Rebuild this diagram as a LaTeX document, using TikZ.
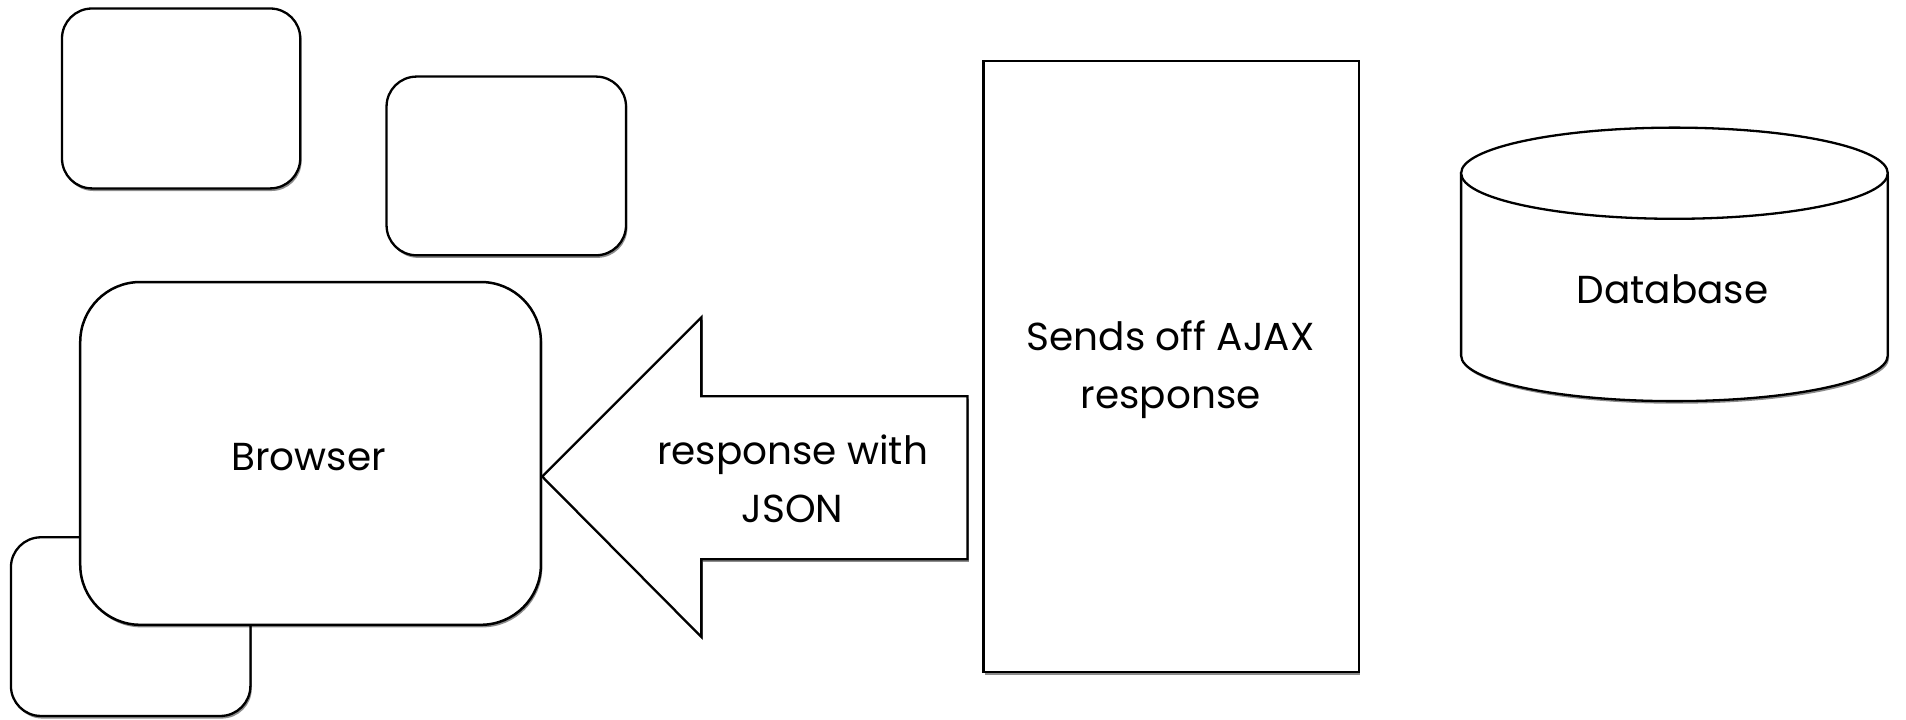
\documentclass[tikz,border=0pt]{standalone}
\usepackage{fontspec}
\setmainfont{Poppins}
\usetikzlibrary{shadows}
\begin{document}
\begin{tikzpicture}[x=1.2156pt,y=-1.2156pt,
  shad/.style={drop shadow={shadow xshift=1.4pt,shadow yshift=-2.6pt,opacity=0.45,fill=black}},
  rbox/.style={draw=black,line width=2.3pt,fill=white,rounded corners=30pt,inner sep=0pt,outer sep=0pt,shad},
  sbox/.style={draw=black,line width=2.3pt,fill=white,inner sep=0pt,outer sep=0pt,shad},
  lbl/.style={font=\fontsize{39}{58}\selectfont,align=center,inner sep=0pt}]
\useasboundingbox[fill=white] (0,0) rectangle (1568,592);
\node[rbox,minimum width=196*1.2156pt,minimum height=148*1.2156pt] (b1) at (149,81) {};
\node[rbox,minimum width=197*1.2156pt,minimum height=147*1.2156pt] (b2) at (416.5,136.5) {};
\node[rbox,minimum width=197*1.2156pt,minimum height=147*1.2156pt] (b3) at (107.5,515.5) {};
\node[rbox,rounded corners=60pt,line width=2.5pt,minimum width=379*1.2156pt,minimum height=282*1.2156pt] (browser) at (255.5,373) {};
\node[lbl] (browsertxt) at (254,376) {Browser};
\node[sbox,minimum width=309*1.2156pt,minimum height=503*1.2156pt] (server) at (963.5,301.5) {};
\node[lbl] (servertxt) at (963,304) {Sends off AJAX\\response};
% arrow
\path[draw=black,line width=2.3pt,fill=white,line join=miter,shad]
  (446,392) -- (577,261) -- (577,326) -- (796,326) -- (796,460) -- (577,460) -- (577,524) -- cycle;
\node[lbl] (arrowtxt) at (652,394) {response with\\JSON};
% cylinder
\path[draw=black,line width=2.3pt,fill=white,shad]
  (1202,142.5) -- (1202,292.5) arc[start angle=180,end angle=0,x radius=175.5,y radius=37.5] -- (1553,142.5) -- cycle;
\draw[line width=2.3pt,fill=white] (1377.5,142.5) ellipse[x radius=175.5,y radius=37.5];
\node[lbl] (db) at (1376,238) {Database};
\end{tikzpicture}
\end{document}
